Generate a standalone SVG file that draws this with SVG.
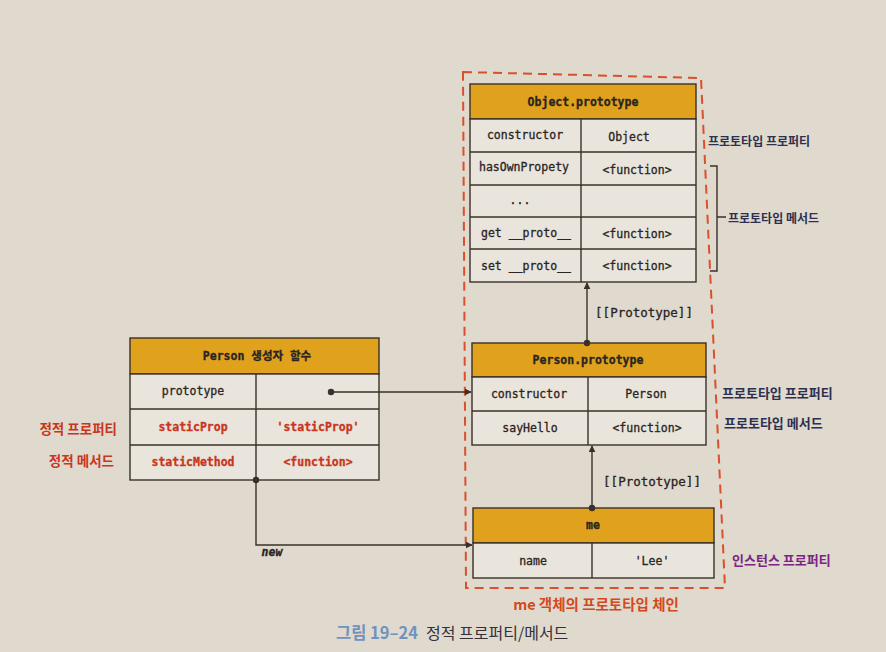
<svg xmlns="http://www.w3.org/2000/svg" width="886" height="652" viewBox="0 0 886 652">
<defs>
<marker id="arr" viewBox="0 0 10 10" refX="9" refY="5" markerWidth="7" markerHeight="7" orient="auto-start-reverse" markerUnits="userSpaceOnUse">
<path d="M0,0 L10,5 L0,10 z" fill="#3a3029"/>
</marker>
<style>
.hdr{fill:#e0a11c;stroke:#3a3029;stroke-width:1.4}
.cell{fill:#e9e4dc;stroke:#3a3029;stroke-width:1.4}
.ln{stroke:#3a3029;stroke-width:1.4;fill:none}
.code{font-family:"DejaVu Sans Mono","Liberation Mono","Noto Sans CJK KR",monospace;font-size:11.5px;fill:#2a2522;stroke:#2a2522;stroke-width:0.3;text-anchor:middle;dominant-baseline:central}
.hd{font-weight:bold}
.red{fill:#c8361c;stroke:#c8361c;font-weight:bold}
.lbl{font-size:12.5px}
.kr{font-family:"Noto Sans CJK KR","Noto Sans",sans-serif;font-weight:bold;font-size:12px;dominant-baseline:central}
.kr13{font-size:13px}
.navy{fill:#2e3050}
.conn{stroke:#3a3029;stroke-width:1.4;fill:none}
</style>
</defs>
<rect width="886" height="652" fill="#e0d9cd"/>

<!-- dashed chain region -->
<path d="M463,72 L701,78 L725,588 L466,588 Z" fill="none" stroke="#d9502a" stroke-width="2" stroke-dasharray="9 6"/>

<g id="object-prototype">
<rect class="hdr" x="470" y="84" width="226" height="35"/>
<rect class="cell" x="470" y="119" width="226" height="163"/>
<line class="ln" x1="470" y1="152" x2="696" y2="152"/>
<line class="ln" x1="470" y1="185" x2="696" y2="185"/>
<line class="ln" x1="470" y1="217" x2="696" y2="217"/>
<line class="ln" x1="470" y1="249" x2="696" y2="249"/>
<line class="ln" x1="581" y1="119" x2="581" y2="282"/>
<text class="code hd" x="583" y="102">Object.prototype</text>
<text class="code" x="525" y="135">constructor</text>
<text class="code" x="629" y="137">Object</text>
<text class="code" x="524" y="167">hasOwnPropety</text>
<text class="code" x="637" y="170">&lt;function&gt;</text>
<text class="code" x="520" y="200">...</text>
<text class="code" x="526" y="233">get __proto__</text>
<text class="code" x="637" y="234">&lt;function&gt;</text>
<text class="code" x="526" y="266">set __proto__</text>
<text class="code" x="637" y="266">&lt;function&gt;</text>
</g>

<g id="person-prototype">
<rect class="hdr" x="472" y="343" width="234" height="34"/>
<rect class="cell" x="472" y="377" width="234" height="68"/>
<line class="ln" x1="472" y1="411" x2="706" y2="411"/>
<line class="ln" x1="588" y1="377" x2="588" y2="445"/>
<text class="code hd" x="588" y="360">Person.prototype</text>
<text class="code" x="529" y="394">constructor</text>
<text class="code" x="646" y="394">Person</text>
<text class="code" x="530" y="428">sayHello</text>
<text class="code" x="647" y="428">&lt;function&gt;</text>
</g>

<g id="me">
<rect class="hdr" x="473" y="508" width="241" height="35"/>
<rect class="cell" x="473" y="543" width="241" height="35"/>
<line class="ln" x1="592" y1="543" x2="592" y2="578"/>
<text class="code hd" x="593" y="525">me</text>
<text class="code" x="533" y="561">name</text>
<text class="code" x="652" y="561">'Lee'</text>
</g>

<g id="person-constructor">
<rect class="hdr" x="130" y="338" width="249" height="36"/>
<rect class="cell" x="130" y="374" width="249" height="106"/>
<line class="ln" x1="130" y1="409" x2="379" y2="409"/>
<line class="ln" x1="130" y1="445" x2="379" y2="445"/>
<line class="ln" x1="256" y1="374" x2="256" y2="480"/>
<text class="code hd" x="257" y="356">Person 생성자 함수</text>
<text class="code" x="193" y="391">prototype</text>
<text class="code red" x="193" y="427">staticProp</text>
<text class="code red" x="318" y="427">'staticProp'</text>
<text class="code red" x="193" y="462">staticMethod</text>
<text class="code red" x="318" y="462">&lt;function&gt;</text>
</g>

<g id="connectors">
<circle cx="331" cy="392" r="3.2" fill="#3a3029"/>
<line class="conn" x1="331" y1="392" x2="471" y2="392" marker-end="url(#arr)"/>
<circle cx="256" cy="480" r="3.2" fill="#3a3029"/>
<path class="conn" d="M256,480 L256,545 L472,545" marker-end="url(#arr)"/>
<circle cx="587" cy="343" r="3.2" fill="#3a3029"/>
<line class="conn" x1="587" y1="343" x2="587" y2="283" marker-end="url(#arr)"/>
<circle cx="592" cy="508" r="3.2" fill="#3a3029"/>
<line class="conn" x1="592" y1="508" x2="592" y2="446" marker-end="url(#arr)"/>
<path class="conn" d="M710,166 L717,166 L717,271 L710,271 M717,217 L726,217" stroke-width="1.1"/>
<text class="code lbl" x="644" y="312">[[Prototype]]</text>
<text class="code lbl" x="652" y="481">[[Prototype]]</text>
<text class="code hd" x="272" y="552" style="font-style:italic">new</text>
</g>

<g id="labels">
<text class="kr navy" x="708" y="140">프로토타입 프로퍼티</text>
<text class="kr navy" x="728" y="217">프로토타입 메서드</text>
<text class="kr kr13 navy" x="722" y="392">프로토타입 프로퍼티</text>
<text class="kr kr13 navy" x="724" y="422">프로토타입 메서드</text>
<text class="kr kr13" x="732" y="559" style="fill:#7a2584">인스턴스 프로퍼티</text>
<text class="kr" x="117" y="428" style="fill:#c8361c;text-anchor:end;font-size:13.5px">정적 프로퍼티</text>
<text class="kr" x="114" y="460" style="fill:#c8361c;text-anchor:end;font-size:13.5px">정적 메서드</text>
<text class="kr" x="596" y="603" style="fill:#d4481c;text-anchor:middle;font-size:14.5px">me 객체의 프로토타입 체인</text>
<text class="kr" x="336" y="632" style="fill:#6f93bf;font-size:16.5px">그림 19–24</text>
<text class="kr" x="426" y="632" style="fill:#333038;font-size:16px;font-weight:normal">정적 프로퍼티/메서드</text>
</g>
</svg>
